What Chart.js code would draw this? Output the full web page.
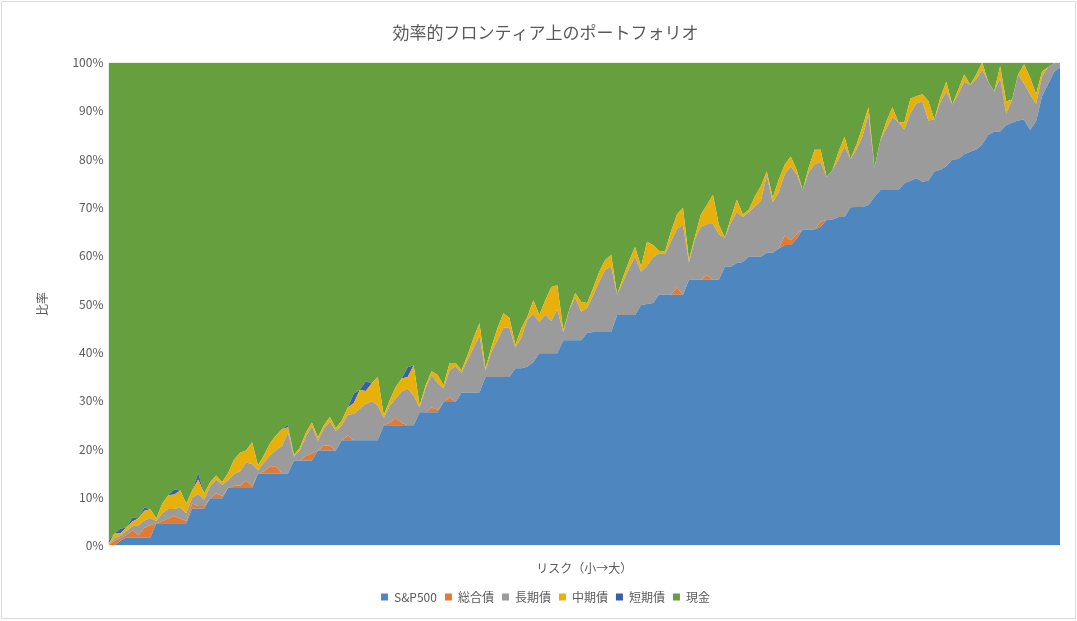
<!DOCTYPE html>
<html lang="ja">
<head>
<meta charset="utf-8">
<title>効率的フロンティア上のポートフォリオ</title>
<script src="https://cdn.jsdelivr.net/npm/chart.js@4/dist/chart.umd.min.js"></script>
<style>
  html, body { margin: 0; padding: 0; background: #fff; }
  #wrap { position: relative; width: 1077px; height: 621px; }
  #frame { position: absolute; left: 1px; top: 1px; width: 1073px; height: 616px; border: 1px solid #d9d9d9; pointer-events: none; }
</style>
</head>
<body>
<div id="wrap">
  <canvas id="chart" width="1077" height="621"></canvas>
  <div id="frame"></div>
</div>
<script>
const FONT = '"Noto Sans CJK JP", "Noto Sans", sans-serif';
const TEXT_COLOR = '#595959';

// Share of each asset (%) for each portfolio, ordered from low to high risk
const sp500 = [0,0,1,1.7,1.7,1.7,1.7,1.7,4.6,4.6,4.6,4.6,4.6,4.6,7.7,7.7,7.7,9.8,9.8,9.8,
  11.9,11.9,11.9,11.9,11.9,14.9,14.9,14.9,14.9,14.9,14.9,17.6,17.6,17.6,17.6,19.7,19.7,19.7,19.7,21.8,
  21.8,21.8,21.8,21.8,21.8,21.8,24.9,24.9,24.9,24.9,24.9,24.9,27.6,27.6,27.6,27.6,29.7,29.7,29.7,31.7,
  31.7,31.7,31.7,34.9,34.9,34.9,34.9,34.9,36.7,36.7,37,38,39.8,39.8,39.8,39.8,42.5,42.5,42.5,42.5,
  44,44.2,44.2,44.2,44.2,47.7,47.7,47.7,47.7,49.8,50,50.2,51.9,51.9,51.9,51.9,51.9,55,55,55,
  55,55,55,57.7,57.7,58.5,58.7,59.8,59.8,59.8,60.6,60.6,61.5,62.2,62.2,63.5,65.4,65.4,65.4,66,
  67.4,67.5,68,68,70,70.1,70.1,70.5,72.2,73.6,73.6,73.6,73.6,75,75.5,76,75.3,75.5,77.4,77.8,
  78.5,79.9,80,81,81.5,82,83,85,85.7,85.7,87,87.5,88,88.2,86,87.8,93,95.5,98,99];

const sogoBond = [0,1,0.5,0.5,1.5,0.5,2,2.5,0,0.5,1,1.5,1,0.5,1,0.5,0.5,0,1,0.5,
  0,0.5,0.5,1.5,0.5,0,0.5,1.5,1.5,0,0,0,0,1,1.5,0,1,1,0,0,
  1,0,0,0,0,0,0,0.5,1.5,0.5,0,0,0,0,1,0.5,0,1,0,0,
  0,0,0,0,0,0,0,0,0,0,0,0,0,0,0,0,0,0,0,0,
  0,0,0,0,0,0,0,0,0,0,0,0,0,0,0,1.5,0,0,0,0,
  1,0,0,0,0,0,0,0,0,0,0,0,0,2,1,1,0,0,0,1,
  0,0,0,0,0,0,0,0,0,0,0,0,0,0,0,0,0,0,0,0,
  0,0,0,0,0,0,0,0,0,0,0,0,0,0,0,0,0,0,0,0];

const longBond = [0,0.5,0.5,0.8,0.8,2,1.5,1.5,0.5,1.6,2,1.5,2.3,1.6,1.2,2.5,1.3,2.5,2.9,2.3,
  1.6,2.4,3,3.8,4.5,0.7,1.8,2.3,3.4,5.7,8.5,0.8,2.2,4,5.6,2,3.5,5,4,3.1,
  4.3,5.5,6.5,7.5,8,7.2,1.5,3.5,4,6.5,7.6,6.1,1,5,6.7,5.5,2.8,5.6,7.4,4,
  6.7,9.2,11.8,1.3,5.2,7.6,10.2,10.2,4.3,6.3,9.8,10,6.4,8,6.7,9.1,1.6,6.3,8.8,5.9,
  5.2,7.6,10.4,12.9,13.5,4.2,6.9,9.7,12.1,6.9,7.9,9.5,8.6,8.4,11.1,12.1,14.5,3.6,8.4,11,
  10.5,11.6,9.4,6,9.1,10.6,9.3,9.2,10.4,11.5,16,10.4,11.7,12.6,15.3,12.3,8.2,11.8,13.5,12.4,
  8.9,10.3,12,14.6,10,11.9,14.6,18.7,6,10.4,12.7,15.1,14,11.1,14,15.5,16.6,12.5,10.8,13.9,
  15.5,11.4,13.4,15,13.9,14.5,15.5,11,8.3,11,2.4,4.8,9.5,7.4,7.4,3.6,4.1,3.5,1.8,1];

const midBond = [0.3,1,0.5,0.8,1,1.4,2,1.8,0.5,2,2.8,3,3.5,2,1.5,3,1.3,0.8,0.8,0.5,
  1.5,3,3.8,2.5,4.5,1,1.5,2.5,3,3.5,1.1,0.3,0.5,0.8,0.8,0.7,0.7,0.9,0.6,1,
  1.5,2.2,3.9,2.7,3.8,5.9,0.6,1.2,2.4,2.7,2.4,6.3,0.4,0.6,0.8,1.7,0.7,1.5,0.7,0.6,
  1,2,2.5,0.5,1,2.5,3,2,0.5,2,0.5,2.8,1.5,3,7,5,0.5,0,1,2,
  1,1.5,2,2,2.5,0,1,1.5,2,1,5,2.5,0.5,0.5,2,3,3.5,0.5,0.5,2.5,
  4,6,2,0,1,2.5,0.5,0.5,2,3,0.8,1,2.5,2,2,1,0,1,3,2.5,
  0,0,1.5,2,0,1,2,1.5,0,0,1.5,2,0,1.5,3,1.5,1.5,4,0,1,
  2,0,1,1.5,0,1,1.5,0,0,2.5,2.5,0,0,4,3.5,2,1,0,0,0];

const shortBond = [0.7,0,1,0,0.8,0,0.7,0,0,0,0,1,0,0,0,1.3,0,0,0,0,
  0,0,0,0,0,0,0,0,0,0,0.5,0,0,0,0,0,0,0,0,0,
  0,2,0,2,0,0,0,0,0,0,2,0,0,0,0,0,0,0,0,0,
  0,0,0,0,0,0,0,0,0,0,0,0,0,0,0,0,0,0,0,0,
  0,0,0,0,0,0,0,0,0,0,0,0,0,0,0,0,0,0,0,0,
  0,0,0,0,0,0,0,0,0,0,0,0,0,0,0,0,0,0,0,0,
  0,0,0,0,0,0,0,0,0,0,0,0,0,0,0,0,0,0,0,0,
  0,0,0,0,0,0,0,0,0,0,0,0,0,0,0,0,0,0,0,0];

const cash = [99,97.5,96.5,96.2,94.2,94.4,92.1,92.5,94.4,91.3,89.6,88.4,88.6,91.3,88.6,85,89.2,86.9,85.5,86.9,
  85,82.2,80.8,80.3,78.6,83.4,81.3,78.8,77.2,75.9,75,81.3,79.7,76.6,74.5,77.6,75.1,73.4,75.7,74.1,
  71.4,68.5,67.8,66,66.4,65.1,73,69.9,67.2,65.4,63.1,62.7,71,66.8,63.9,64.7,66.8,62.2,62.2,63.7,
  60.6,57.1,54,63.3,58.9,55,51.9,52.9,58.5,55,52.7,49.2,52.3,49.2,46.5,46.1,55.4,51.2,47.7,49.6,
  49.8,46.7,43.4,40.9,39.8,48.1,44.4,41.1,38.2,42.3,37.1,37.8,39,39.2,35,31.5,30.1,40.9,36.1,31.5,
  29.5,27.4,33.6,36.3,32.2,28.4,31.5,30.5,27.8,25.7,22.6,28,24.3,21.2,19.5,22.2,26.4,21.8,18.1,18.1,
  23.7,22.2,18.5,15.4,20,17,13.3,9.3,21.8,16,12.2,9.3,12.4,12.4,7.5,7,6.6,8,11.8,7.3,
  4,8.7,5.6,2.5,4.6,2.5,0,4,6,0.8,8.1,7.7,2.5,0.4,3.1,6.6,1.9,1,0.2,0];

const seriesNames = ['S&P500', '総合債', '長期債', '中期債', '短期債', '現金'];
const seriesColors = ['#4E86BF', '#E07A35', '#9B9B9B', '#E8B00A', '#3C5DAA', '#66A03E'];
const yTicks = [0, 10, 20, 30, 40, 50, 60, 70, 80, 90, 100];

// portfolio numbers on the (hidden) x axis
const portfolios = sp500.map((_, i) => i + 1);

function makeDataset(label, data, color, index) {
  return {
    label: label,
    data: data,
    backgroundColor: color,
    borderColor: color,
    borderWidth: 0,
    pointRadius: 0,
    pointHoverRadius: 0,
    tension: 0,
    fill: index === 0 ? 'origin' : '-1'
  };
}

const allSeries = [sp500, sogoBond, longBond, midBond, shortBond, cash];

new Chart(document.getElementById('chart'), {
  type: 'line',
  data: {
    labels: portfolios,
    datasets: allSeries.map((d, i) => makeDataset(seriesNames[i], d, seriesColors[i], i))
  },
  options: {
    responsive: false,
    animation: false,
    events: [],
    layout: { padding: { left: 31, right: 17, top: 20, bottom: 8 } },
    plugins: {
      title: {
        display: true,
        text: '効率的フロンティア上のポートフォリオ',
        color: TEXT_COLOR,
        font: { family: FONT, size: 17, weight: 'normal' },
        padding: { top: 2, bottom: 20 }
      },
      legend: {
        position: 'bottom',
        labels: {
          boxWidth: 7,
          boxHeight: 7,
          padding: 8,
          color: TEXT_COLOR,
          font: { family: FONT, size: 12 }
        }
      },
      tooltip: { enabled: false }
    },
    scales: {
      x: {
        grid: { display: false, drawTicks: false },
        border: { display: false },
        ticks: { display: false },
        title: {
          display: true,
          text: 'リスク（小→大）',
          color: TEXT_COLOR,
          font: { family: FONT, size: 12 },
          padding: { top: 16, bottom: 7 }
        }
      },
      y: {
        stacked: true,
        min: 0,
        max: 100,
        afterBuildTicks: axis => { axis.ticks = yTicks.map(v => ({ value: v })); },
        grid: { display: false, drawTicks: false },
        border: { display: false },
        ticks: {
          color: TEXT_COLOR,
          font: { family: FONT, size: 12 },
          padding: 5,
          callback: v => v + '%'
        },
        title: {
          display: true,
          text: '比率',
          color: TEXT_COLOR,
          font: { family: FONT, size: 12 },
          padding: { top: 4, bottom: 18 }
        }
      }
    }
  }
});
</script>
</body>
</html>
